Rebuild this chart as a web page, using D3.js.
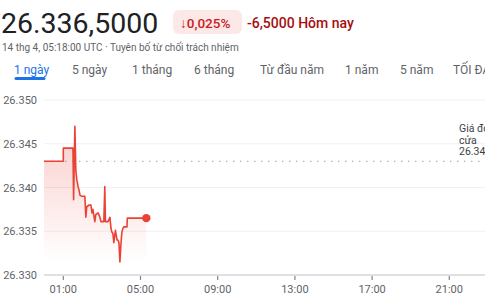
<!DOCTYPE html>
<html>
<head>
<meta charset="utf-8">
<script src="https://cdn.jsdelivr.net/npm/d3@7"></script>
<style>
  body { margin: 0; background: #fff; }
  svg { display: block; font-family: Roboto, "Noto Sans", sans-serif; }
</style>
</head>
<body>
<div id="chart"></div>
<script>
// minutes after midnight (UTC) and price
const times = [0, 60, 60, 90, 92, 96, 99, 102, 106, 109, 112, 118, 127, 130, 133, 140, 146, 149, 152, 158,
  161, 168, 174, 177, 186, 189, 191, 199, 205, 208, 211, 214, 217, 222, 227, 230, 233, 236, 239, 242,
  245, 248, 258, 259, 318];
const prices = [26.3430, 26.3430, 26.3445, 26.3445, 26.3386, 26.3470, 26.3420, 26.3409, 26.3401, 26.3397,
  26.3391, 26.3390, 26.3390, 26.3366, 26.3378, 26.3380, 26.3380, 26.3371, 26.3375, 26.3361,
  26.3369, 26.3371, 26.3366, 26.3361, 26.3361, 26.3401, 26.3361, 26.3361, 26.3366, 26.3354,
  26.3349, 26.3348, 26.3337, 26.3351, 26.3340, 26.3340, 26.3337, 26.3315, 26.3334, 26.3349,
  26.3353, 26.3355, 26.3355, 26.3365, 26.3365];
const prevClose = 26.343;
const yTicks = [26.330, 26.335, 26.340, 26.345, 26.350];
const xTickMinutes = [60, 300, 540, 780, 1020, 1260];
const xTickLabels = ["01:00", "05:00", "09:00", "13:00", "17:00", "21:00"];
const tabs = ["1 ngày", "5 ngày", "1 tháng", "6 tháng", "Từ đầu năm", "1 năm", "5 năm", "TỐI ĐA"];
const tabX = [14, 72, 132, 194, 260, 345, 400, 453];

const width = 485, height = 303;
const red = "#ea4335";

let svg = d3.select("#chart")
  .append("svg")
  .attr("width", width)
  .attr("height", height);

// header
svg.append("text")
  .attr("x", 1).attr("y", 33)
  .attr("font-size", 28.5)
  .attr("fill", "#202124")
  .text("26.336,5000");

svg.append("rect")
  .attr("x", 173).attr("y", 10)
  .attr("width", 69).attr("height", 24)
  .attr("rx", 6)
  .attr("fill", "#fce8e6");
svg.append("text")
  .attr("x", 180).attr("y", 27.5)
  .attr("font-size", 13.5)
  .attr("font-weight", 500)
  .attr("fill", "#c5221f")
  .text("↓0,025%");
svg.append("text")
  .attr("x", 247).attr("y", 27.5)
  .attr("font-size", 14)
  .attr("font-weight", 500)
  .attr("fill", "#a50e0e")
  .text("-6,5000 Hôm nay");

svg.append("text")
  .attr("x", 2).attr("y", 51)
  .attr("font-size", 10)
  .attr("fill", "#5f6368")
  .text("14 thg 4, 05:18:00 UTC · Tuyên bố từ chối trách nhiệm");

// tabs
svg.selectAll(".tab")
  .data(tabs)
  .enter()
  .append("text")
    .attr("class", "tab")
    .attr("x", (d, i) => tabX[i])
    .attr("y", 74)
    .attr("font-size", 12)
    .attr("fill", (d, i) => i === 0 ? "#1a73e8" : "#5f6368")
    .text(d => d);
svg.append("line")
  .attr("x1", 16).attr("x2", 44)
  .attr("y1", 78.5).attr("y2", 78.5)
  .attr("stroke", "#1a73e8")
  .attr("stroke-width", 3)
  .attr("stroke-linecap", "round");

// scales
let x = d3.scaleLinear().domain([0, 1440]).range([44, 44 + 24 * 19.3]);
let y = d3.scaleLinear().domain([26.330, 26.350]).range([275, 100]);

// gridlines
svg.append("g")
  .selectAll("line")
  .data(yTicks.slice(1))
  .enter()
  .append("line")
    .attr("x1", 44).attr("x2", width)
    .attr("y1", d => y(d)).attr("y2", d => y(d))
    .attr("stroke", "#eef0f2")
    .attr("stroke-width", 1);

svg.append("g")
  .selectAll("text")
  .data(yTicks)
  .enter()
  .append("text")
    .attr("x", 37)
    .attr("y", d => y(d) + 4)
    .attr("text-anchor", "end")
    .attr("font-size", 11)
    .attr("fill", "#5f6368")
    .text(d => d.toFixed(3));

// x axis
svg.append("line")
  .attr("x1", 44).attr("x2", width)
  .attr("y1", 275).attr("y2", 275)
  .attr("stroke", "#bdc1c6")
  .attr("stroke-width", 1);
svg.append("g")
  .selectAll("line")
  .data(xTickMinutes)
  .enter()
  .append("line")
    .attr("x1", d => x(d)).attr("x2", d => x(d))
    .attr("y1", 276).attr("y2", 280)
    .attr("stroke", "#80868b")
    .attr("stroke-width", 1.2);
svg.append("g")
  .selectAll("text")
  .data(xTickMinutes)
  .enter()
  .append("text")
    .attr("x", d => x(d))
    .attr("y", 293)
    .attr("text-anchor", "middle")
    .attr("font-size", 11)
    .attr("fill", "#5f6368")
    .text((d, i) => xTickLabels[i]);

// previous close
svg.append("line")
  .attr("x1", 44).attr("x2", width)
  .attr("y1", y(prevClose)).attr("y2", y(prevClose))
  .attr("stroke", "#9aa0a6")
  .attr("stroke-width", 1)
  .attr("stroke-dasharray", "1.5,5.5");
let closeLabel = svg.append("text")
  .attr("x", 459)
  .attr("font-size", 10.5)
  .attr("fill", "#3c4043");
["Giá đóng", "cửa", d3.format(".3f")(prevClose)].forEach((t, i) => {
  closeLabel.append("tspan").attr("x", 459).attr("y", 132 + i * 11.5).text(t);
});

// area + line
let data = times.map((t, i) => ({ t: t, v: prices[i] }));

let defs = svg.append("defs");
let grad = defs.append("linearGradient")
  .attr("id", "fade")
  .attr("gradientUnits", "userSpaceOnUse")
  .attr("x1", 0).attr("x2", 0)
  .attr("y1", y(26.3445)).attr("y2", 262);
grad.append("stop").attr("offset", 0).attr("stop-color", red).attr("stop-opacity", 0.22);
grad.append("stop").attr("offset", 1).attr("stop-color", red).attr("stop-opacity", 0);

svg.append("path")
  .datum(data)
  .attr("fill", "url(#fade)")
  .attr("d", d3.area()
    .x(d => x(d.t))
    .y0(262)
    .y1(d => y(d.v)));

svg.append("path")
  .datum(data)
  .attr("fill", "none")
  .attr("stroke", red)
  .attr("stroke-width", 1.6)
  .attr("stroke-linejoin", "round")
  .attr("d", d3.line()
    .x(d => x(d.t))
    .y(d => y(d.v)));

let last = data[data.length - 1];
svg.append("circle")
  .attr("cx", x(last.t))
  .attr("cy", y(last.v))
  .attr("r", 4.2)
  .attr("fill", red);
</script>
</body>
</html>
